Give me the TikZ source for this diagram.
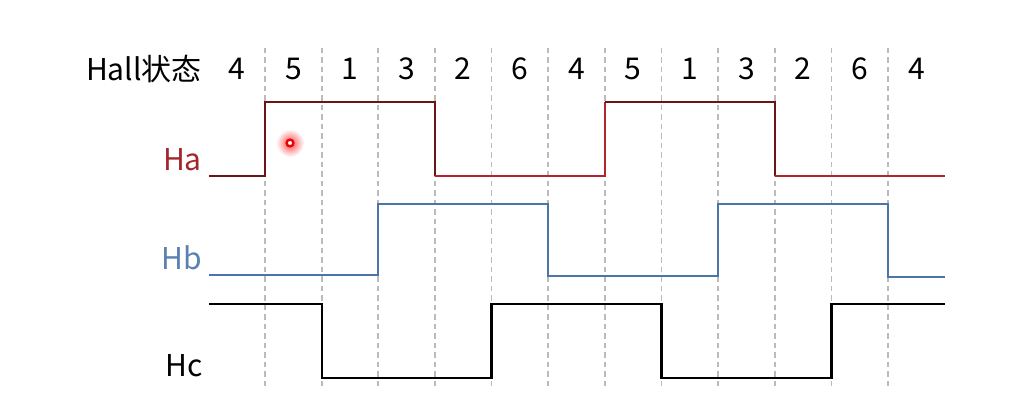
\documentclass[tikz,border=0pt]{standalone}
\usepackage{fontspec}
\setmainfont{Noto Sans CJK SC}
\definecolor{hamaroon}{HTML}{6B1518}
\definecolor{hared}{HTML}{B3242C}
\definecolor{halabel}{HTML}{A3262C}
\definecolor{hbblue}{HTML}{4A74AA}
\definecolor{hblabel}{HTML}{5A80B2}
\definecolor{gridgray}{HTML}{BBBBBB}
\tikzset{
  gridline/.style={gridgray, line width=1.8pt, dash pattern=on 5.5pt off 4pt},
  sig/.style={line width=2.2pt, line join=miter},
  lbl/.style={font=\fontsize{30pt}{32pt}\selectfont, inner sep=0pt, anchor=east},
  digit/.style={font=\fontsize{30pt}{32pt}\selectfont, inner sep=0pt}
}
\begin{document}
\begin{tikzpicture}[x=1pt,y=-1pt]
\useasboundingbox (0,0) rectangle (1017,414);
% dashed grid
\foreach \i in {0,...,11}{
  \draw[gridline] (265+56.64*\i,48) -- (265+56.64*\i,388);
}
% hall state labels
\node[lbl] (hall) at (202,69) {Hall状态};
\foreach \d [count=\k from 0] in {4,5,1,3,2,6,4,5,1,3,2,6,4}{
  \node[digit] (d\k) at (236.7+56.64*\k,69) {\d};
}
% signal labels
\node[lbl, text=halabel] (ha) at (202,160) {Ha};
\node[lbl, text=hblabel] (hb) at (202,258) {Hb};
\node[lbl, text=black] (hc) at (203,366) {Hc};
% Ha
\draw[sig, hamaroon] (209,176) -- (265,176) -- (265,102) -- (434.9,102) -- (434.9,176);
\draw[sig, hared] (434.9,176) -- (605,176) -- (605,102);
\draw[sig, hamaroon] (605,102) -- (774.8,102) -- (774.8,176);
\draw[sig, hared] (774.8,176) -- (945,176);
% Hb
\draw[sig, hbblue] (209,275) -- (378.3,275) -- (378.3,204) -- (548.2,204) -- (548.2,276) -- (718.1,276) -- (718.1,204) -- (888,204) -- (888,277) -- (945,277);
% Hc
\draw[sig, black] (209,304) -- (321.6,304) -- (321.6,378) -- (491.5,378) -- (491.5,304) -- (661.4,304) -- (661.4,378) -- (831.4,378) -- (831.4,304) -- (945,304);
% cursor dot
\shade[inner color=red!70, outer color=white] (290,143) circle (14);
\draw[red!95!black, line width=2.4pt, fill=white] (290,143) circle (3.4);
\end{tikzpicture}
\end{document}
